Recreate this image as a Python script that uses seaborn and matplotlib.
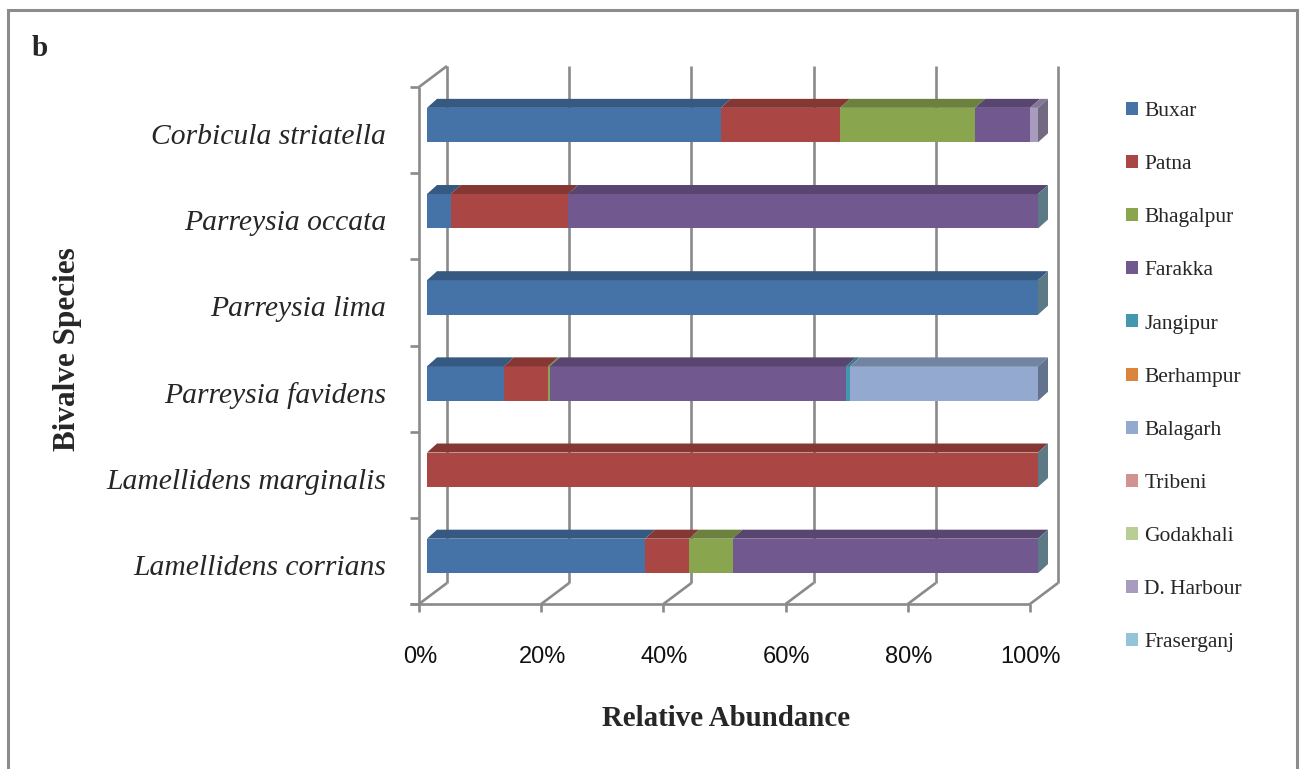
import numpy as np
import pandas as pd
import matplotlib
matplotlib.use("Agg")
import matplotlib.pyplot as plt
from matplotlib.patches import Polygon, Rectangle, Patch
from matplotlib.colors import to_rgb
import seaborn as sns

# ---- data: relative abundance (%) of each bivalve species by site ----
species = ["Corbicula striatella", "Parreysia occata", "Parreysia lima",
           "Parreysia favidens", "Lamellidens marginalis", "Lamellidens corrians"]
sites = ["Buxar", "Patna", "Bhagalpur", "Farakka", "Jangipur", "Berhampur",
         "Balagarh", "Tribeni", "Godakhali", "D. Harbour", "Fraserganj"]

buxar      = [48.1,  3.9, 100.0, 12.6,   0.0, 35.7]
patna      = [19.5, 19.2,   0.0,  7.2, 100.0,  7.2]
bhagalpur  = [22.1,  0.0,   0.0,  0.3,   0.0,  7.1]
farakka    = [ 9.0, 76.9,   0.0, 48.5,   0.0, 50.0]
jangipur   = [ 0.0,  0.0,   0.0,  0.6,   0.0,  0.0]
berhampur  = [ 0.0,  0.0,   0.0,  0.0,   0.0,  0.0]
balagarh   = [ 0.0,  0.0,   0.0, 30.8,   0.0,  0.0]
tribeni    = [ 0.0,  0.0,   0.0,  0.0,   0.0,  0.0]
godakhali  = [ 0.0,  0.0,   0.0,  0.0,   0.0,  0.0]
dharbour   = [ 1.3,  0.0,   0.0,  0.0,   0.0,  0.0]
fraserganj = [ 0.0,  0.0,   0.0,  0.0,   0.0,  0.0]

x_ticks = [0, 20, 40, 60, 80, 100]
x_tick_labels = ["0%", "20%", "40%", "60%", "80%", "100%"]

palette = ["#4572A7", "#AA4643", "#89A54E", "#71588F", "#4198AF", "#DB843D",
           "#93A9CF", "#D19392", "#B9CD96", "#A99BBD", "#92C5D8"]

values = np.array([buxar, patna, bhagalpur, farakka, jangipur, berhampur,
                   balagarh, tribeni, godakhali, dharbour, fraserganj])
cum = np.cumsum(values, axis=0)
starts = cum - values

# ---- figure / axes geometry (pixels) ----
W, H = 1303, 769
sns.set_theme(style="white")
plt.rcParams["font.family"] = ["Liberation Serif", "DejaVu Serif"]
fig = plt.figure(figsize=(W / 100, H / 100), dpi=100)

ax_l, ax_r, ax_t, ax_b = 427, 1038, 82, 599
ax = fig.add_axes([ax_l / W, 1 - ax_b / H, (ax_r - ax_l) / W, (ax_b - ax_t) / H])

px_x = (ax_r - ax_l) / 100.0          # pixels per percent
px_y = (ax_b - ax_t) / 6.0            # pixels per category


def off(dx_px, dy_px):
    """pixel shift (right, up) expressed in data units"""
    return dx_px / px_x, -dy_px / px_y


bar_dx, bar_dy = off(10, 9)            # depth of the bars
fr_dx, fr_dy = off(-8, -5)             # front plane of the box
bk_dx, bk_dy = off(20, 16)             # back wall of the box

# ---- front faces: cumulative bars drawn back-to-front with seaborn ----
for k in range(len(sites) - 1, -1, -1):
    df = pd.DataFrame({"species": species, "end": cum[k]})
    sns.barplot(data=df, x="end", y="species", order=species, orient="h",
                color=palette[k], saturation=1, width=0.4, linewidth=0,
                ax=ax, zorder=3)


def shade(c, f):
    return tuple(np.clip(np.array(to_rgb(c)) * f, 0, 1))


half = 0.2
for i in range(len(species)):
    # top faces
    for k in range(len(sites)):
        x0, x1 = starts[k, i], cum[k, i]
        if x1 - x0 <= 0:
            continue
        yt = i - half
        ax.add_patch(Polygon([(x0, yt), (x1, yt), (x1 + bar_dx, yt + bar_dy),
                              (x0 + bar_dx, yt + bar_dy)], closed=True,
                             facecolor=shade(palette[k], 0.78), edgecolor="none",
                             zorder=4, clip_on=False))
    # right end cap
    last = max(k for k in range(len(sites)) if values[k, i] > 0)
    cap_col = shade(palette[last], 0.68) if last >= 6 else shade(palette[-1], 0.62)
    xe = cum[-1, i]
    ax.add_patch(Polygon([(xe, i - half), (xe + bar_dx, i - half + bar_dy),
                          (xe + bar_dx, i + half + bar_dy), (xe, i + half)],
                         closed=True, facecolor=cap_col, edgecolor="none",
                         zorder=4, clip_on=False))

# ---- box: back wall gridlines, floor, left axis ----
lc, lw = "#8a8a8a", 1.9
kw = dict(color=lc, lw=lw, zorder=1, clip_on=False, solid_capstyle="butt")
y_top, y_bot = -0.5, 5.5
for v in x_ticks:
    ax.plot([v + bk_dx, v + bk_dx], [y_top + bk_dy, y_bot + bk_dy], **kw)
    ax.plot([v + fr_dx, v + bk_dx], [y_bot + fr_dy, y_bot + bk_dy], **kw)
    tx, ty = off(0, -8)
    ax.plot([v + fr_dx, v + fr_dx], [y_bot + fr_dy, y_bot + fr_dy + ty], **kw)
# left wall
ax.plot([fr_dx, fr_dx], [y_top + fr_dy, y_bot + fr_dy], **kw)
ax.plot([fr_dx, bk_dx], [y_top + fr_dy, y_top + bk_dy], **kw)
# floor front edge
tick_dx, _ = off(-9, 0)
ax.plot([fr_dx + tick_dx, 100 + fr_dx], [y_bot + fr_dy, y_bot + fr_dy], **kw)
for b in np.arange(-0.5, 5.6, 1.0):
    ax.plot([fr_dx + tick_dx, fr_dx], [b + fr_dy, b + fr_dy], **kw)

ax.set_xlim(0, 100)
ax.set_ylim(5.5, -0.5)
ax.set_axis_off()

# ---- tick labels ----
lab_dx, lab_dy = off(-41, -12)
for i, name in enumerate(species):
    ax.text(lab_dx, i + lab_dy, name, ha="right", va="center",
            fontsize=21.3, style="italic", family="Liberation Serif")
_, xl_dy = off(0, -53)
for v, t in zip(x_ticks, x_tick_labels):
    ax.text(v + fr_dx + 1 / px_x, y_bot + fr_dy + xl_dy, t, ha="center", va="center",
            fontsize=17, family="Liberation Sans", color="#111111")

# ---- axis titles and panel letter ----
fig.text(68 / W, 1 - 349 / H, "Bivalve Species", rotation=90, ha="center",
         va="center", fontsize=22.5, fontweight="bold")
fig.text(726 / W, 1 - 718 / H, "Relative Abundance", ha="center", va="center",
         fontsize=20.8, fontweight="bold")
fig.text(40 / W, 1 - 48 / H, "b", ha="center", va="center", fontsize=21,
         fontweight="bold")

# ---- legend ----
handles = [Patch(facecolor=c, edgecolor="none", label=s) for s, c in zip(sites, palette)]
fig.legend(handles=handles, loc="upper left", bbox_to_anchor=(1126 / W, 1 - 102 / H),
           frameon=False, prop={"family": "Liberation Serif", "size": 15.5},
           handlelength=0.55, handleheight=0.55, handletextpad=0.3,
           labelspacing=1.58, borderpad=0, borderaxespad=0)

# ---- outer frame ----
fig.patches.append(Rectangle((8 / W, -0.1), (1297 - 8) / W, 1.1 - 10 / H,
                             transform=fig.transFigure, fill=False,
                             edgecolor="#8c8c8c", lw=2.2))

fig.savefig("out.png", dpi=100, facecolor="white")
